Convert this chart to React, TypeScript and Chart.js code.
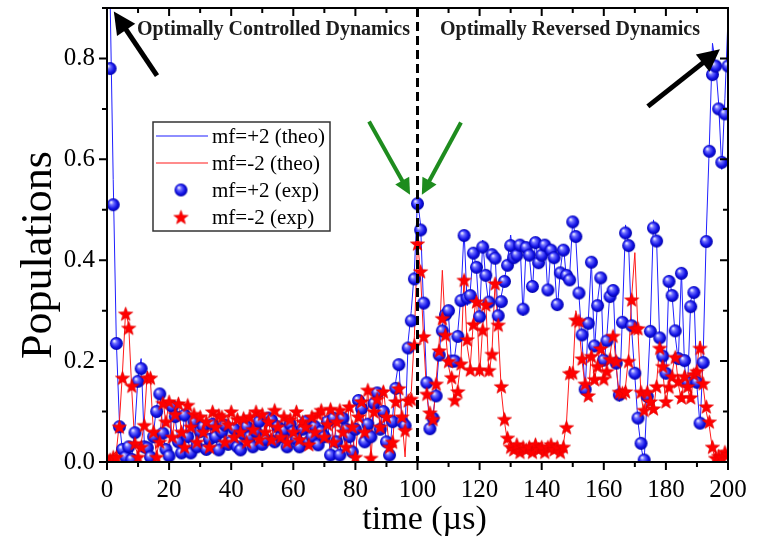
import React, { useEffect, useRef } from 'react';
import { Chart, registerables } from 'chart.js';

Chart.register(...registerables);

// ---------------- data ----------------
const TIME = [
  0, 1, 2, 3, 4, 5, 6, 7, 8, 9, 10, 11, 12, 13, 14, 15, 16, 17, 18, 19,
  20, 21, 22, 23, 24, 25, 26, 27, 28, 29, 30, 31, 32, 33, 34, 35, 36, 37, 38, 39,
  40, 41, 42, 43, 44, 45, 46, 47, 48, 49, 50, 51, 52, 53, 54, 55, 56, 57, 58, 59,
  60, 61, 62, 63, 64, 65, 66, 67, 68, 69, 70, 71, 72, 73, 74, 75, 76, 77, 78, 79,
  80, 81, 82, 83, 84, 85, 86, 87, 88, 89, 90, 91, 92, 93, 94, 95, 96, 97, 98, 99,
  100, 101, 102, 103, 104, 105, 106, 107, 108, 109, 110, 111, 112, 113, 114, 115, 116, 117, 118, 119,
  120, 121, 122, 123, 124, 125, 126, 127, 128, 129, 130, 131, 132, 133, 134, 135, 136, 137, 138, 139,
  140, 141, 142, 143, 144, 145, 146, 147, 148, 149, 150, 151, 152, 153, 154, 155, 156, 157, 158, 159,
  160, 161, 162, 163, 164, 165, 166, 167, 168, 169, 170, 171, 172, 173, 174, 175, 176, 177, 178, 179,
  180, 181, 182, 183, 184, 185, 186, 187, 188, 189, 190, 191, 192, 193, 194, 195, 196, 197, 198, 199,
  200,
];

const PLUS2_EXP = [
  null, 0.78, 0.51, 0.235, 0.07, 0.025, 0.01, 0.03, 0.005, 0.058,
  0.16, 0.185, 0.03, 0.028, 0.01, 0.05, 0.1, 0.135, 0.057, 0.025,
  0.012, 0.11, 0.09, 0.04, 0.018, 0.093, 0.05, 0.018, 0.08, 0.03,
  0.06, 0.07, 0.025, 0.045, 0.075, 0.05, 0.024, 0.06, 0.073, 0.035,
  0.04, 0.065, 0.03, 0.024, 0.055, 0.07, 0.05, 0.03, 0.06, 0.08,
  0.035, 0.045, 0.087, 0.083, 0.04, 0.07, 0.05, 0.063, 0.03, 0.075,
  0.06, 0.045, 0.03, 0.065, 0.08, 0.04, 0.05, 0.07, 0.034, 0.06,
  0.05, 0.08, 0.014, 0.087, 0.04, 0.014, 0.087, 0.065, 0.05, 0.02,
  0.065, 0.122, 0.106, 0.04, 0.075, 0.05, 0.116, 0.137, 0.065, 0.1,
  0.04, 0.014, 0.08, 0.146, 0.193, 0.08, 0.072, 0.226, 0.28, 0.363,
  0.512, 0.46, 0.315, 0.157, 0.066, 0.087, 0.131, 0.212, 0.26, 0.292,
  0.3, 0.2, 0.2, 0.249, 0.32, 0.449, 0.325, 0.33, 0.414, 0.386,
  0.288, 0.426, 0.37, 0.317, 0.411, 0.404, 0.29, 0.318, 0.358, 0.39,
  0.429, 0.405, 0.41, 0.43, 0.303, 0.425, 0.41, 0.348, 0.435, 0.395,
  0.41, 0.43, 0.341, 0.42, 0.405, 0.312, 0.375, 0.42, 0.37, 0.361,
  0.476, 0.447, 0.335, 0.252, 0.144, 0.275, 0.396, 0.23, 0.31, 0.365,
  0.202, 0.24, 0.328, 0.34, 0.196, 0.133, 0.277, 0.454, 0.429, 0.27,
  0.176, 0.087, 0.037, 0.004, 0.13, 0.259, 0.464, 0.438, 0.246, 0.21,
  0.176, 0.358, 0.33, 0.26, 0.205, 0.374, 0.201, 0.158, 0.308, 0.336,
  0.158, 0.077, 0.197, 0.437, 0.616, 0.768, 0.785, 0.7, 0.594, 0.69,
  0.785,
];

const MINUS2_EXP = [
  0.005, 0.005, 0.01, 0.01, 0.07, 0.167, 0.294, 0.266, 0.151, 0.037,
  0.01, 0.03, 0.073, 0.167, 0.167, 0.06, 0.01, 0.04, 0.117, 0.08,
  0.12, 0.05, 0.095, 0.116, 0.06, 0.03, 0.113, 0.07, 0.095, 0.04,
  0.09, 0.06, 0.08, 0.03, 0.1, 0.07, 0.093, 0.09, 0.04, 0.075,
  0.1, 0.05, 0.085, 0.06, 0.087, 0.04, 0.09, 0.065, 0.1, 0.045,
  0.095, 0.06, 0.08, 0.045, 0.103, 0.07, 0.05, 0.09, 0.04, 0.085,
  0.06, 0.1, 0.045, 0.08, 0.07, 0.035, 0.09, 0.06, 0.095, 0.103,
  0.05, 0.075, 0.105, 0.04, 0.08, 0.103, 0.06, 0.03, 0.11, 0.07,
  0.01, 0.09, 0.12, 0.06, 0.143, 0.008, 0.1, 0.125, 0.07, 0.14,
  0.09, 0.03, 0.04, 0.12, 0.146, 0.09, 0.063, 0.122, 0.125, 0.232,
  0.433, 0.378, 0.249, 0.135, 0.098, 0.085, 0.155, 0.221, 0.285, 0.252,
  0.2, 0.168, 0.123, 0.14, 0.195, 0.361, 0.243, 0.183, 0.273, 0.318,
  0.183, 0.262, 0.312, 0.182, 0.214, 0.354, 0.272, 0.15, 0.085, 0.048,
  0.03, 0.025, 0.035, 0.02, 0.03, 0.025, 0.03, 0.02, 0.035, 0.025,
  0.03, 0.02, 0.03, 0.035, 0.025, 0.03, 0.02, 0.03, 0.069, 0.176,
  0.177, 0.282, 0.28, 0.205, 0.155, 0.132, 0.21, 0.164, 0.19, 0.225,
  0.165, 0.18, 0.204, 0.25, 0.2, 0.139, 0.137, 0.14, 0.2, 0.322,
  0.265, 0.265, 0.139, 0.103, 0.139, 0.12, 0.106, 0.15, 0.226, 0.19,
  0.12, 0.149, 0.17, 0.208, 0.16, 0.128, 0.17, 0.15, 0.128, 0.174,
  0.18, 0.226, 0.156, 0.11, 0.08, 0.03, 0.008, 0.012, 0.01, 0.02,
  0.015,
];

const PLUS2_THEO = [
  1.0, 0.92, 0.56, 0.24, 0.08, 0.02, 0.015, 0.04, 0.01, 0.07,
  0.17, 0.205, 0.04, 0.02, 0.015, 0.06, 0.11, 0.14, 0.06, 0.02,
  0.015, 0.12, 0.085, 0.035, 0.02, 0.1, 0.045, 0.02, 0.085, 0.025,
  0.065, 0.075, 0.02, 0.05, 0.08, 0.045, 0.02, 0.065, 0.08, 0.03,
  0.045, 0.07, 0.025, 0.02, 0.06, 0.075, 0.045, 0.025, 0.065, 0.085,
  0.03, 0.05, 0.09, 0.08, 0.035, 0.075, 0.045, 0.07, 0.025, 0.08,
  0.055, 0.05, 0.025, 0.07, 0.085, 0.035, 0.055, 0.075, 0.03, 0.065,
  0.045, 0.085, 0.01, 0.095, 0.035, 0.01, 0.095, 0.06, 0.055, 0.015,
  0.07, 0.13, 0.1, 0.035, 0.08, 0.045, 0.125, 0.145, 0.06, 0.11,
  0.035, 0.01, 0.09, 0.16, 0.2, 0.075, 0.065, 0.24, 0.3, 0.38,
  0.52, 0.47, 0.3, 0.15, 0.06, 0.095, 0.14, 0.22, 0.27, 0.3,
  0.29, 0.19, 0.21, 0.26, 0.33, 0.46, 0.31, 0.34, 0.42, 0.38,
  0.28, 0.44, 0.36, 0.31, 0.42, 0.41, 0.28, 0.33, 0.36, 0.4,
  0.45, 0.4, 0.42, 0.44, 0.29, 0.43, 0.41, 0.34, 0.44, 0.39,
  0.42, 0.44, 0.33, 0.43, 0.4, 0.3, 0.38, 0.43, 0.36, 0.37,
  0.48, 0.44, 0.33, 0.24, 0.14, 0.28, 0.4, 0.22, 0.32, 0.37,
  0.19, 0.25, 0.34, 0.35, 0.19, 0.12, 0.29, 0.47, 0.43, 0.26,
  0.17, 0.08, 0.03, 0.0, 0.14, 0.27, 0.48, 0.44, 0.24, 0.22,
  0.17, 0.37, 0.33, 0.25, 0.2, 0.38, 0.19, 0.15, 0.32, 0.34,
  0.15, 0.07, 0.21, 0.45, 0.63, 0.83, 0.79, 0.71, 0.58, 0.72,
  0.88,
];

const MINUS2_THEO = [
  0.0, 0.005, 0.015, 0.02, 0.08, 0.18, 0.3, 0.27, 0.14, 0.03,
  0.015, 0.035, 0.08, 0.18, 0.16, 0.055, 0.015, 0.045, 0.125, 0.075,
  0.125, 0.045, 0.1, 0.12, 0.055, 0.035, 0.12, 0.065, 0.1, 0.035,
  0.095, 0.055, 0.085, 0.025, 0.105, 0.065, 0.1, 0.085, 0.035, 0.08,
  0.105, 0.045, 0.09, 0.055, 0.092, 0.035, 0.095, 0.06, 0.105, 0.04,
  0.1, 0.055, 0.085, 0.04, 0.11, 0.065, 0.045, 0.095, 0.035, 0.09,
  0.055, 0.105, 0.04, 0.085, 0.065, 0.03, 0.095, 0.055, 0.1, 0.11,
  0.045, 0.08, 0.11, 0.035, 0.085, 0.11, 0.055, 0.025, 0.12, 0.065,
  0.005, 0.095, 0.13, 0.055, 0.15, 0.0, 0.11, 0.13, 0.065, 0.15,
  0.085, 0.025, 0.035, 0.13, 0.155, 0.085, 0.01, 0.13, 0.14, 0.25,
  0.44, 0.37, 0.24, 0.13, 0.09, 0.08, 0.16, 0.24, 0.38, 0.26,
  0.19, 0.16, 0.115, 0.15, 0.2, 0.37, 0.23, 0.19, 0.28, 0.33,
  0.17, 0.27, 0.32, 0.17, 0.22, 0.36, 0.26, 0.14, 0.08, 0.04,
  0.025, 0.02, 0.04, 0.015, 0.035, 0.02, 0.035, 0.015, 0.04, 0.02,
  0.035, 0.015, 0.035, 0.03, 0.02, 0.035, 0.015, 0.035, 0.08, 0.19,
  0.17, 0.3, 0.27, 0.2, 0.15, 0.125, 0.22, 0.16, 0.2, 0.23,
  0.16, 0.19, 0.21, 0.26, 0.19, 0.13, 0.14, 0.15, 0.21, 0.33,
  0.415, 0.26, 0.13, 0.095, 0.145, 0.115, 0.1, 0.155, 0.235, 0.18,
  0.115, 0.155, 0.175, 0.215, 0.155, 0.12, 0.175, 0.145, 0.12, 0.18,
  0.19, 0.24, 0.15, 0.1, 0.07, 0.025, 0.005, 0.015, 0.005, 0.025,
  0.01,
];

const SERIES_LABELS = ['mf=+2 (theo)', 'mf=-2 (theo)', 'mf=+2 (exp)', 'mf=-2 (exp)'];
const X_TITLE = 'time (µs)';
const Y_TITLE = 'Populations';
const Y_TICKS = [0, 0.2, 0.4, 0.6, 0.8];
const Y_MINOR = [0.1, 0.3, 0.5, 0.7, 0.9];
const X_TICKS = [0, 20, 40, 60, 80, 100, 120, 140, 160, 180, 200];
const X_MINOR = [10, 30, 50, 70, 90, 110, 130, 150, 170, 190];
const DIVIDER_T = 100;
const REGION_LABELS = [
  { t: 53.6, text: 'Optimally Controlled Dynamics' },
  { t: 149.1, text: 'Optimally Reversed Dynamics' },
];
const ARROWS = [
  { from: [16.1, 0.766], to: [2.2, 0.893], color: '#000000' },
  { from: [174.2, 0.705], to: [197.4, 0.818], color: '#000000' },
  { from: [84.4, 0.675], to: [97.6, 0.53], color: '#1e8c1e' },
  { from: [114.0, 0.673], to: [101.4, 0.53], color: '#1e8c1e' },
];

const SERIF = "'Liberation Serif', 'Times New Roman', serif";
const BLUE = '#1f1fff';
const RED = '#ff1a1a';

function makeSphere(r: number) {
  const c = document.createElement('canvas');
  const s = Math.ceil(r * 2 + 2);
  c.width = s;
  c.height = s;
  const ctx = c.getContext('2d')!;
  const cx = s / 2;
  const g = ctx.createRadialGradient(cx - r * 0.35, cx - r * 0.4, r * 0.05, cx, cx, r);
  g.addColorStop(0, '#f4f4ff');
  g.addColorStop(0.3, '#6a6aff');
  g.addColorStop(0.7, '#1414e6');
  g.addColorStop(1, '#0000a8');
  ctx.fillStyle = g;
  ctx.beginPath();
  ctx.arc(cx, cx, r, 0, Math.PI * 2);
  ctx.fill();
  return c;
}

function makeStar(R: number) {
  const c = document.createElement('canvas');
  const s = Math.ceil(R * 2 + 2);
  c.width = s;
  c.height = s;
  const ctx = c.getContext('2d')!;
  const cx = s / 2;
  const cy = s / 2 + R * 0.1;
  const rIn = R * 0.42;
  ctx.beginPath();
  for (let i = 0; i < 10; i++) {
    const rad = i % 2 === 0 ? R : rIn;
    const a = -Math.PI / 2 + (i * Math.PI) / 5;
    const px = cx + rad * Math.cos(a);
    const py = cy + rad * Math.sin(a);
    if (i === 0) ctx.moveTo(px, py);
    else ctx.lineTo(px, py);
  }
  ctx.closePath();
  ctx.fillStyle = '#ff0000';
  ctx.fill();
  ctx.strokeStyle = '#dd0000';
  ctx.lineWidth = 0.6;
  ctx.stroke();
  return c;
}

function drawArrow(ctx: CanvasRenderingContext2D, x1: number, y1: number, x2: number, y2: number, color: string, lw: number, hl: number, hw: number) {
  const ang = Math.atan2(y2 - y1, x2 - x1);
  const bx = x2 - hl * Math.cos(ang);
  const by = y2 - hl * Math.sin(ang);
  ctx.save();
  ctx.strokeStyle = color;
  ctx.fillStyle = color;
  ctx.lineWidth = lw;
  ctx.lineCap = 'butt';
  ctx.beginPath();
  ctx.moveTo(x1, y1);
  ctx.lineTo(bx + 1 * Math.cos(ang), by + 1 * Math.sin(ang));
  ctx.stroke();
  ctx.beginPath();
  ctx.moveTo(x2, y2);
  ctx.lineTo(bx + (hw / 2) * Math.sin(ang), by - (hw / 2) * Math.cos(ang));
  ctx.lineTo(bx - (hw / 2) * Math.sin(ang), by + (hw / 2) * Math.cos(ang));
  ctx.closePath();
  ctx.fill();
  ctx.restore();
}

export default function App() {
  const ref = useRef<HTMLCanvasElement | null>(null);

  useEffect(() => {
    if (!ref.current) return;
    const sphere = makeSphere(6.5);
    const star = makeStar(7.5);

    const overlay = {
      id: 'overlay',
      afterDatasetsDraw(chart: any) {
        const { ctx, chartArea: a, scales } = chart;
        const x = scales.x;
        const y = scales.y;
        ctx.save();

        // divider
        const xd = x.getPixelForValue(DIVIDER_T);
        ctx.strokeStyle = '#000';
        ctx.lineWidth = 3;
        ctx.setLineDash([9, 5]);
        ctx.beginPath();
        ctx.moveTo(xd, a.top);
        ctx.lineTo(xd, a.bottom);
        ctx.stroke();
        ctx.setLineDash([]);

        // frame
        ctx.lineWidth = 2;
        ctx.strokeStyle = '#000';
        ctx.strokeRect(a.left, a.top, a.right - a.left, a.bottom - a.top);

        // ticks
        ctx.lineWidth = 2;
        ctx.beginPath();
        const xt = (v: number, len: number) => {
          const px = x.getPixelForValue(v);
          ctx.moveTo(px, a.bottom);
          ctx.lineTo(px, a.bottom + len);
          ctx.moveTo(px, a.top);
          ctx.lineTo(px, a.top + len);
        };
        X_TICKS.forEach((v) => xt(v, 8));
        X_MINOR.forEach((v) => xt(v, 5));
        const yt = (v: number, len: number) => {
          const py = y.getPixelForValue(v);
          ctx.moveTo(a.left, py);
          ctx.lineTo(a.left - len, py);
          ctx.moveTo(a.right, py);
          ctx.lineTo(a.right - len, py);
        };
        Y_TICKS.forEach((v) => yt(v, 8));
        Y_MINOR.forEach((v) => yt(v, 5));
        ctx.stroke();

        // axis titles
        ctx.fillStyle = '#000';
        ctx.textAlign = 'center';
        ctx.textBaseline = 'alphabetic';
        ctx.font = `34px ${SERIF}`;
        ctx.fillText(X_TITLE, (a.left + a.right) / 2 + 7, a.bottom + 67);
        ctx.save();
        ctx.translate(a.left - 56, (a.top + a.bottom) / 2 + 20);
        ctx.rotate(-Math.PI / 2);
        ctx.font = `44px ${SERIF}`;
        ctx.fillText(Y_TITLE, 0, 0);
        ctx.restore();

        // region labels
        ctx.fillStyle = '#1c1c1c';
        ctx.font = `bold 20px ${SERIF}`;
        ctx.textAlign = 'center';
        ctx.textBaseline = 'alphabetic';
        REGION_LABELS.forEach((r) => {
          ctx.fillText(r.text, x.getPixelForValue(r.t), a.top + 27);
        });

        // arrows
        ARROWS.forEach((ar) => {
          const black = ar.color === '#000000';
          drawArrow(
            ctx,
            x.getPixelForValue(ar.from[0]),
            y.getPixelForValue(ar.from[1]),
            x.getPixelForValue(ar.to[0]),
            y.getPixelForValue(ar.to[1]),
            ar.color,
            black ? 5 : 4,
            black ? 22 : 16,
            black ? 22 : 16,
          );
        });

        // legend
        const lx = a.left + 46;
        const ly = a.top + 114;
        const lw = 177;
        const lh = 109;
        ctx.fillStyle = '#fff';
        ctx.fillRect(lx, ly, lw, lh);
        ctx.strokeStyle = '#333';
        ctx.lineWidth = 1.5;
        ctx.strokeRect(lx, ly, lw, lh);
        const rows = [14, 41, 68, 95];
        ctx.font = `21px ${SERIF}`;
        ctx.textAlign = 'left';
        ctx.textBaseline = 'middle';
        rows.forEach((dy, i) => {
          const cy = ly + dy;
          if (i < 2) {
            ctx.strokeStyle = i === 0 ? BLUE : RED;
            ctx.lineWidth = 1.2;
            ctx.beginPath();
            ctx.moveTo(lx + 3, cy);
            ctx.lineTo(lx + 55, cy);
            ctx.stroke();
          } else {
            const img = i === 2 ? sphere : star;
            ctx.drawImage(img, lx + 28 - img.width / 2, cy - img.height / 2);
          }
          ctx.fillStyle = '#000';
          ctx.fillText(SERIES_LABELS[i], lx + 59, cy + 1);
        });

        ctx.restore();
      },
    };

    const toPts = (arr: (number | null)[]) => TIME.map((t, i) => ({ x: t, y: arr[i] }));

    const chart = new Chart(ref.current, {
      type: 'scatter',
      data: {
        datasets: [
          {
            label: SERIES_LABELS[0],
            data: toPts(PLUS2_THEO),
            showLine: true,
            borderColor: BLUE,
            borderWidth: 1,
            pointRadius: 0,
            order: 4,
          },
          {
            label: SERIES_LABELS[1],
            data: toPts(MINUS2_THEO),
            showLine: true,
            borderColor: RED,
            borderWidth: 1,
            pointRadius: 0,
            order: 3,
          },
          {
            label: SERIES_LABELS[2],
            data: toPts(PLUS2_EXP),
            showLine: false,
            pointStyle: sphere,
            pointRadius: 6,
            order: 2,
          },
          {
            label: SERIES_LABELS[3],
            data: toPts(MINUS2_EXP),
            showLine: false,
            pointStyle: star,
            pointRadius: 7,
            order: 1,
          },
        ],
      } as any,
      options: {
        animation: false,
        responsive: false,
        events: [],
        layout: { padding: { top: 8, right: 35, bottom: 0, left: 0 } },
        plugins: { legend: { display: false }, tooltip: { enabled: false } },
        scales: {
          x: {
            type: 'linear',
            min: 0,
            max: 200,
            grid: { display: false },
            border: { display: false },
            afterBuildTicks: (s: any) => {
              s.ticks = X_TICKS.map((v) => ({ value: v }));
            },
            afterFit: (s: any) => {
              s.height = 77;
              s.paddingLeft = 0;
              s.paddingRight = 0;
            },
            ticks: {
              color: '#000',
              font: { family: SERIF, size: 25 },
              padding: 5,
              maxRotation: 0,
              autoSkip: false,
            },
            title: { display: false },
          },
          y: {
            type: 'linear',
            min: 0,
            max: 0.9,
            grid: { display: false },
            border: { display: false },
            afterBuildTicks: (s: any) => {
              s.ticks = Y_TICKS.map((v) => ({ value: v }));
            },
            afterFit: (s: any) => {
              s.width = 107;
              s.paddingTop = 0;
              s.paddingBottom = 0;
            },
            ticks: {
              color: '#000',
              font: { family: SERIF, size: 25 },
              padding: 4,
              callback: (v: any) => Number(v).toFixed(1),
            },
            title: { display: false },
          },
        },
      },
      plugins: [overlay],
    } as any);

    return () => chart.destroy();
  }, []);

  return (
    <div style={{ position: 'absolute', left: 0, top: 0, width: 763, height: 539, background: '#fff' }}>
      <canvas ref={ref} width={763} height={539} />
    </div>
  );
}
